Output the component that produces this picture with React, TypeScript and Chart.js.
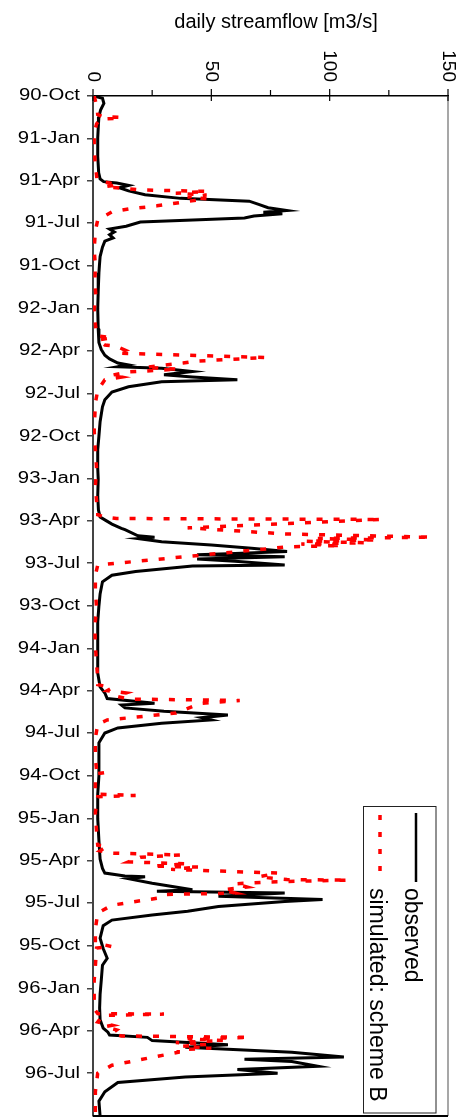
import React, { useEffect, useRef } from 'react';
import { Chart, registerables } from 'chart.js';

Chart.register(...registerables);

// Days counted from 1990-10-01
const quarterDays = [0, 92, 182, 273, 365, 457, 548, 639, 731, 823, 913, 1004, 1096, 1188, 1278, 1369, 1461, 1553, 1643, 1734, 1826, 1918, 2009, 2100];
const quarterLabels = ['90-Oct', '91-Jan', '91-Apr', '91-Jul', '91-Oct', '92-Jan', '92-Apr', '92-Jul', '92-Oct', '93-Jan', '93-Apr', '93-Jul', '93-Oct', '94-Jan', '94-Apr', '94-Jul', '94-Oct', '95-Jan', '95-Apr', '95-Jul', '95-Oct', '96-Jan', '96-Apr', '96-Jul'];
const dayMax = 2192;
const flowTicks = [0, 50, 100, 150];
const flowMinorTicks = [25, 75, 125];

const obsDays = [0, 5, 16, 30, 45, 60, 90, 130, 165, 178, 184, 187, 192, 197, 204, 212, 220, 226, 233, 240, 246, 250, 253, 258, 262, 266, 271, 280, 286, 292, 298, 305, 312, 325, 345, 365,
  380, 420, 457, 500, 530, 545, 557, 565, 574, 578, 582, 585, 592, 599, 604, 610, 614, 625, 636, 653, 668, 700, 731,
  760, 800, 823, 860, 890, 905, 911, 920, 929, 932, 945, 948, 951, 958, 965, 972, 979, 983, 986, 990, 995, 1000, 1008, 1010, 1022, 1030, 1044, 1070, 1096,
  1130, 1188, 1240, 1270, 1283, 1295, 1305, 1309, 1315, 1322, 1330, 1336, 1341, 1348, 1358, 1369, 1390, 1430, 1461,
  1500, 1553, 1600, 1640, 1660, 1670, 1676, 1678, 1682, 1692, 1706, 1709, 1713, 1720, 1727, 1731, 1742, 1752, 1760, 1771, 1783, 1810, 1832, 1853, 1868,
  1900, 1930, 1960, 1985, 2003, 2012, 2018, 2023, 2030, 2039, 2044, 2055, 2065, 2070, 2075, 2085, 2092, 2100, 2108, 2120, 2140, 2160, 2192];
const obsFlow = [0.5, 4, 4.6, 3.2, 2.5, 2.3, 2, 2, 2.4, 3, 4.5, 10, 15, 11, 15, 22, 37, 66, 70, 74, 82, 72, 80, 68, 64, 45, 20, 14, 7, 9, 7, 8.5, 5, 4, 3, 2.7,
  2.5, 2.2, 2, 2.2, 2.5, 3.5, 5, 7, 10.5, 15, 10.5, 29, 42, 30, 42, 61, 29, 15, 8, 5, 4, 3, 2.5,
  2, 2, 2.2, 2, 2.3, 3, 5, 8, 12, 13.5, 19, 26, 19, 29, 50, 67, 82, 60, 44, 81, 44, 60, 81, 42, 18, 8, 4, 3, 2.5,
  2, 2, 2, 3, 5, 6, 26, 12, 13.5, 30, 57, 46, 50, 29, 10.5, 5, 2.5, 2.5, 2.5,
  2, 2, 2.5, 3, 4, 5, 13.5, 22, 15, 25, 42, 27, 81, 53, 97, 81, 53, 40, 25, 8, 4.3, 3, 4.3, 6, 4,
  3.5, 3, 2.8, 3, 4.3, 6.3, 7, 23, 25, 57, 39, 84, 106, 64, 84, 95, 61, 78, 39, 10.5, 5, 2.5, 3];

const simDays = [0, 10, 26, 40, 44, 46, 48, 50, 60, 80, 110, 150, 170, 181, 191, 195, 202, 205, 209, 213, 217, 221, 228, 236, 243, 249, 266, 290, 330, 365,
  400, 430, 460, 490, 515, 520, 524, 535, 538, 546, 550, 553, 562, 570, 574, 583, 587, 593, 600, 604, 610, 632, 660, 720,
  760, 800, 840, 870, 895, 900, 905, 908, 910, 928, 941, 948, 951, 954, 957, 960, 963, 966, 969, 1008, 1030,
  1060, 1100, 1140, 1180, 1220, 1250, 1265, 1272, 1278, 1283, 1290, 1296, 1299, 1305, 1312, 1326, 1341, 1350, 1380,
  1420, 1450, 1454, 1457, 1500, 1503, 1506, 1540, 1580, 1610, 1612, 1622, 1627, 1628, 1631, 1636, 1646, 1650, 1655, 1657, 1662, 1670, 1678, 1684, 1685, 1689, 1693, 1700, 1706, 1713, 1716, 1724, 1739, 1756, 1790,
  1820, 1828, 1831, 1870, 1900, 1940, 1965, 1972, 1973, 1976, 1990, 1997, 2000, 2007, 2015, 2020, 2023, 2026, 2030, 2034, 2038, 2042, 2046, 2050, 2055, 2061, 2083, 2100, 2140, 2192];
const simFlow = [0.5, 1, 1.7, 2, 4, 12, 10, 3, 1.5, 0.5, 0.5, 1, 1.5, 1.7, 10.5, 5, 21, 48, 35, 48, 40, 48, 38, 27, 15, 8, 2, 1, 0.5, 1,
  0.8, 1.2, 0.5, 1, 1.5, 8, 2, 5, 10, 13.5, 10.5, 12, 73, 43, 38, 22, 36, 15, 8, 12, 5, 2, 1, 0.5,
  1, 1.5, 1, 1.5, 2, 2, 5, 10, 122, 40, 81, 143, 95, 120, 90, 115, 88, 105, 82, 2, 1,
  1, 1.5, 0.8, 1, 1.5, 2, 2, 8, 6, 14, 10, 15, 62, 46, 42, 35, 6, 2, 1,
  1, 1.5, 5, 1, 1, 18, 2, 1, 1.5, 2, 6, 3, 8, 15, 37, 20, 15, 40, 25, 45, 33, 78, 70, 82, 108, 75, 60, 65, 55, 60, 30, 27, 8, 2, 1,
  1, 8, 1.5, 1, 0.5, 0.5, 1, 2, 30, 4, 2, 8, 5, 10, 8, 12, 66, 40, 55, 35, 48, 38, 50, 36, 36, 30, 8, 2, 1, 1];

const FONT = '"Liberation Sans", Arial, Helvetica, sans-serif';

const decorPlugin = {
  id: 'decor',
  afterDraw(chart: any) {
    const { ctx, chartArea: a, scales } = chart;
    const xs = scales.x;
    const ys = scales.y;
    const line = (x1: number, y1: number, x2: number, y2: number) => {
      ctx.beginPath();
      ctx.moveTo(x1, y1);
      ctx.lineTo(x2, y2);
      ctx.stroke();
    };
    ctx.save();
    // right and bottom frame
    ctx.strokeStyle = '#8a8a8a';
    ctx.lineWidth = 1.5;
    line(a.right, a.top, a.right, a.bottom);
    ctx.strokeStyle = '#000';
    ctx.lineWidth = 2;
    line(a.left, a.bottom, a.right, a.bottom);

    // value axis ticks (top)
    ctx.strokeStyle = '#000';
    ctx.lineWidth = 1.2;
    flowTicks.forEach((v) => {
      const px = xs.getPixelForValue(v);
      line(px, a.top - 7, px, a.top + 5);
    });
    flowMinorTicks.forEach((v) => {
      const px = xs.getPixelForValue(v);
      line(px, a.top - 6, px, a.top);
    });

    // value tick labels, rotated clockwise
    ctx.fillStyle = '#000';
    ctx.font = `19px ${FONT}`;
    flowTicks.forEach((v) => {
      const px = xs.getPixelForValue(v);
      ctx.save();
      ctx.translate(px, a.top - 14);
      ctx.rotate(Math.PI / 2);
      ctx.textAlign = 'right';
      ctx.textBaseline = 'middle';
      ctx.fillText(String(v), 0, 0);
      ctx.restore();
    });

    // date labels
    ctx.font = `16px ${FONT}`;
    quarterDays.forEach((d, i) => {
      const py = ys.getPixelForValue(d);
      ctx.save();
      ctx.translate(a.left - 13, py);
      ctx.scale(1.27, 1);
      ctx.textAlign = 'right';
      ctx.textBaseline = 'middle';
      ctx.fillText(quarterLabels[i], 0, 0);
      ctx.restore();
    });

    // axis title
    ctx.font = `20px ${FONT}`;
    ctx.textAlign = 'center';
    ctx.textBaseline = 'alphabetic';
    ctx.fillText('daily streamflow [m3/s]', 276, 28);

    // legend box
    const bx = 363.5, by = 806.5, bw = 72.5, bh = 306.5;
    ctx.fillStyle = '#fff';
    ctx.fillRect(bx, by, bw, bh);
    ctx.strokeStyle = '#222';
    ctx.lineWidth = 1;
    ctx.strokeRect(bx, by, bw, bh);
    ctx.strokeStyle = '#000';
    ctx.lineWidth = 2.5;
    line(416, 813, 416, 882);
    ctx.strokeStyle = '#ff0000';
    ctx.lineWidth = 3.5;
    ctx.setLineDash([5, 12]);
    line(380, 815, 380, 874);
    ctx.setLineDash([]);
    ctx.fillStyle = '#000';
    ctx.font = `23px ${FONT}`;
    ctx.textAlign = 'left';
    ctx.textBaseline = 'alphabetic';
    const rot = (t: string, x: number, y: number) => {
      ctx.save();
      ctx.translate(x, y);
      ctx.rotate(Math.PI / 2);
      ctx.fillText(t, 0, 0);
      ctx.restore();
    };
    rot('observed', 405, 888);
    rot('simulated: scheme B', 369.5, 888);
    ctx.restore();
  },
};

export default function App() {
  const ref = useRef<HTMLCanvasElement | null>(null);
  useEffect(() => {
    document.body.style.margin = '0';
    const canvas = ref.current;
    if (!canvas) return;
    const chart = new Chart(canvas, {
      type: 'scatter',
      data: {
        datasets: [
          {
            label: 'simulated: scheme B',
            data: simDays.map((d, i) => ({ x: simFlow[i], y: d })),
            showLine: true,
            borderColor: '#ff0000',
            backgroundColor: '#ff0000',
            borderWidth: 3.5,
            borderDash: [6, 11],
            pointRadius: 0,
            tension: 0,
            order: 0,
          },
          {
            label: 'observed',
            data: obsDays.map((d, i) => ({ x: obsFlow[i], y: d })),
            showLine: true,
            borderColor: '#000000',
            backgroundColor: '#000000',
            borderWidth: 3,
            pointRadius: 0,
            tension: 0,
            order: 1,
          },
        ],
      },
      options: {
        responsive: false,
        animation: false,
        devicePixelRatio: 1,
        layout: { padding: { left: 0, top: 0, right: 17, bottom: 3 } },
        plugins: { legend: { display: false }, tooltip: { enabled: false }, title: { display: false } },
        scales: {
          x: {
            type: 'linear',
            position: 'top',
            min: 0,
            max: 150,
            ticks: { display: false, stepSize: 25 },
            grid: { display: false },
            border: { display: true, color: '#000', width: 1.5 },
            afterFit: (s: any) => { s.height = 96; },
          },
          y: {
            type: 'linear',
            reverse: true,
            min: 0,
            max: dayMax,
            afterBuildTicks: (s: any) => { s.ticks = quarterDays.map((v) => ({ value: v })); },
            ticks: { display: false, autoSkip: false },
            grid: { display: true, drawOnChartArea: false, drawTicks: true, tickLength: 6, color: '#444', lineWidth: 1.5 },
            border: { display: true, color: '#444', width: 2 },
            afterFit: (s: any) => { s.width = 93; },
          },
        },
      },
      plugins: [decorPlugin],
    } as any);
    return () => chart.destroy();
  }, []);
  return (
    <div style={{ width: 465, height: 1119 }}>
      <canvas ref={ref} width={465} height={1119} style={{ display: 'block' }} />
    </div>
  );
}
